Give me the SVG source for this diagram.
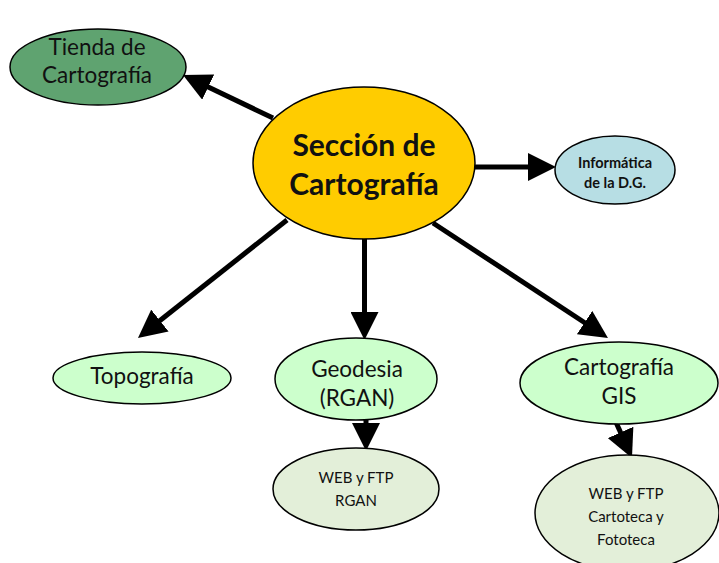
<svg xmlns="http://www.w3.org/2000/svg" width="719" height="563" viewBox="0 0 719 563">
<style>
  .node ellipse { stroke: #000; stroke-width: 1.5; }
  text { font-family: Lato, "Open Sans", "Liberation Sans", sans-serif; fill: #111; text-anchor: middle; }
  .t20 { font-size: 22.5px; }
  .t14 { font-size: 15px; }
  .big { font-size: 30px; font-weight: bold; }
  .small { font-size: 14.5px; font-weight: bold; }
  .conn line { stroke: #000; stroke-width: 5; stroke-linecap: butt; }
</style>
<defs>
  <marker id="ah" markerUnits="userSpaceOnUse" markerWidth="28" markerHeight="28" refX="18" refY="14" orient="auto">
    <path d="M0,0 L28,14 L0,28 z" fill="#000"/>
  </marker>
</defs>

<g id="connectors" class="conn">
  <line x1="273" y1="118" x2="192" y2="79.3" marker-end="url(#ah)"/>
  <line x1="475" y1="167" x2="546" y2="167" marker-end="url(#ah)"/>
  <line x1="287" y1="220" x2="145.8" y2="331.8" marker-end="url(#ah)"/>
  <line x1="364.5" y1="238" x2="364.5" y2="330" marker-end="url(#ah)"/>
  <line x1="433" y1="223" x2="599.6" y2="332.5" marker-end="url(#ah)"/>
  <line x1="366" y1="418" x2="366" y2="441" marker-end="url(#ah)"/>
  <line x1="615" y1="420" x2="627.9" y2="448.9" marker-end="url(#ah)"/>
</g>

<g id="tienda" class="node">
  <ellipse cx="98" cy="67" rx="88" ry="38" fill="#5fa370"/>
  <text class="t20" x="97" y="55">Tienda de</text>
  <text class="t20" x="97" y="83">Cartografía</text>
</g>

<g id="seccion" class="node">
  <ellipse cx="364" cy="163" rx="111" ry="76" fill="#ffcc00"/>
  <text class="big" x="364" y="156">Sección de</text>
  <text class="big" x="364" y="195">Cartografía</text>
</g>

<g id="informatica" class="node">
  <ellipse cx="615" cy="170" rx="60" ry="34" fill="#b7dee4"/>
  <text class="small" x="615" y="168">Informática</text>
  <text class="small" x="615" y="188">de la D.G.</text>
</g>

<g id="topografia" class="node">
  <ellipse cx="142" cy="378" rx="89" ry="26" fill="#ccffcc"/>
  <text class="t20" x="142" y="384">Topografía</text>
</g>

<g id="geodesia" class="node">
  <ellipse cx="356" cy="379" rx="81" ry="41" fill="#ccffcc"/>
  <text class="t20" x="357" y="377">Geodesia</text>
  <text class="t20" x="357" y="406">(RGAN)</text>
</g>

<g id="web-rgan" class="node">
  <ellipse cx="356" cy="489" rx="83" ry="41" fill="#e3efd9"/>
  <text class="t14" x="356" y="483">WEB y FTP</text>
  <text class="t14" x="356" y="506">RGAN</text>
</g>

<g id="cartografia-gis" class="node">
  <ellipse cx="619" cy="383" rx="99" ry="41" fill="#ccffcc"/>
  <text class="t20" x="619" y="375">Cartografía</text>
  <text class="t20" x="619" y="404">GIS</text>
</g>

<g id="web-cartoteca" class="node">
  <ellipse cx="627" cy="513" rx="92" ry="58" fill="#e3efd9"/>
  <text class="t14" x="626" y="499">WEB y FTP</text>
  <text class="t14" x="626" y="522">Cartoteca y</text>
  <text class="t14" x="626" y="545">Fototeca</text>
</g>
</svg>
